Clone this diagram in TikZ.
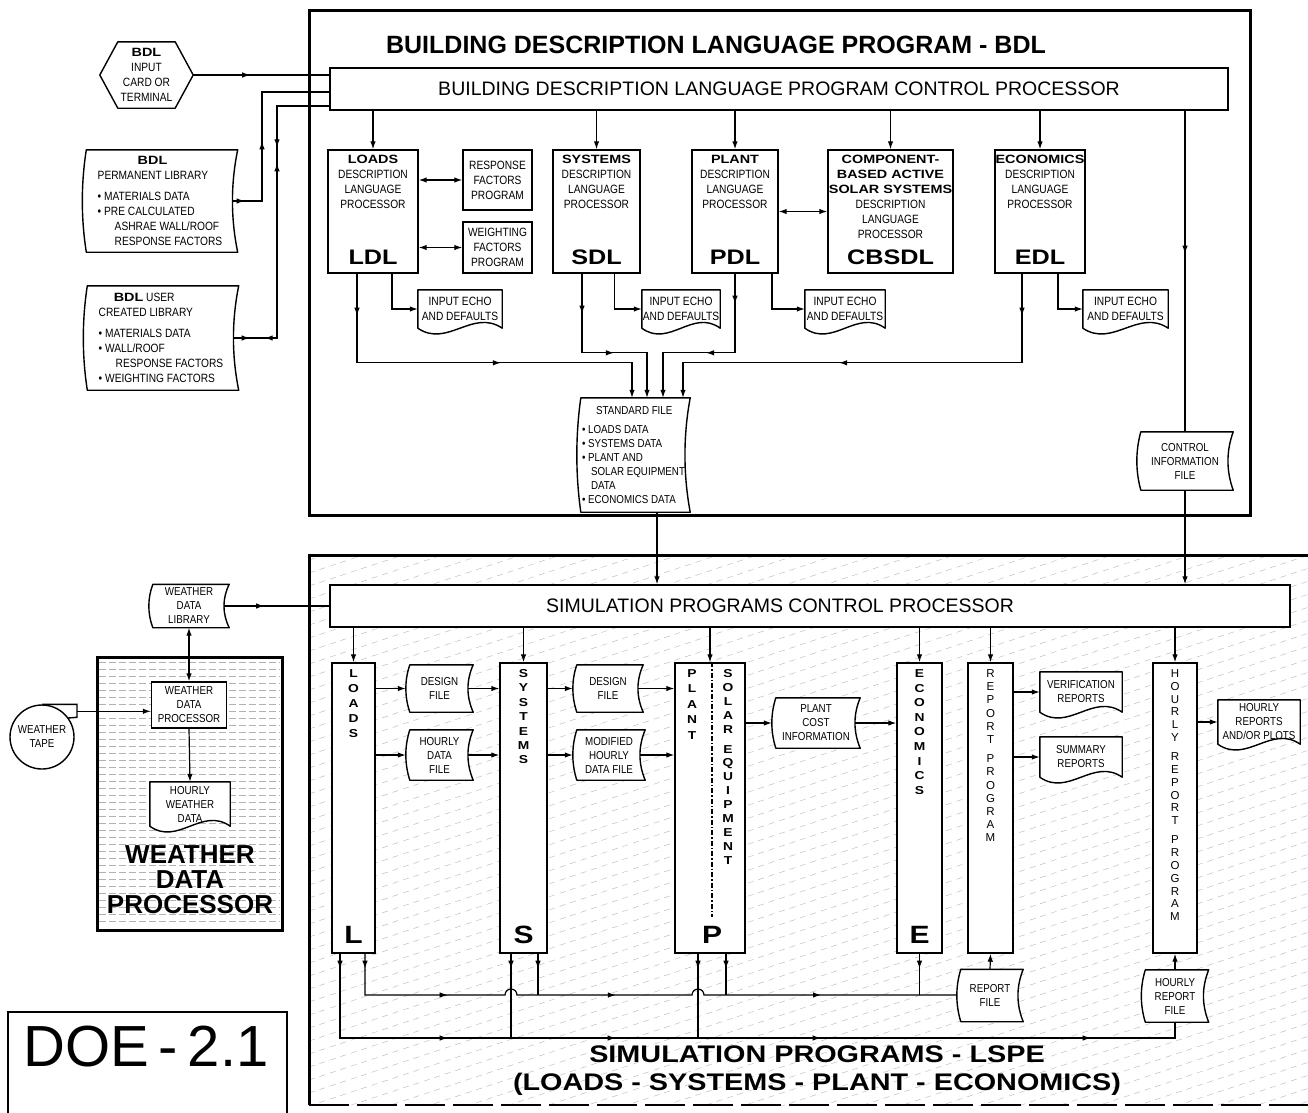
\documentclass[tikz,border=0pt]{standalone}
\usepackage{fontspec}
\setmainfont{Liberation Sans}
\newfontfamily\cndfont[FakeStretch=0.85]{Liberation Sans}
\newfontfamily\extfont[FakeStretch=1.2]{Liberation Sans}
\usetikzlibrary{arrows.meta,calc,decorations.markings,positioning}
\pgfdeclarelayer{bg}
\pgfdeclarelayer{mid}
\pgfsetlayers{bg,mid,main}
\newcommand\hb[1]{{\extfont\bfseries #1}}
\tikzset{
  >={Latex[length=8pt,width=5.5pt]},
  txt/.style={font=\cndfont\fontsize{12}{15}\selectfont,align=center,inner sep=0pt},
  txts/.style={font=\cndfont\fontsize{11.5}{14}\selectfont,align=center,inner sep=0pt},
  big/.style={font=\extfont\bfseries\fontsize{21}{21}\selectfont,inner sep=0pt},
  bigc/.style={font=\extfont\bfseries\fontsize{25}{25}\selectfont,inner sep=0pt},
  vl/.style={font=\extfont\bfseries\fontsize{11.5}{#1}\selectfont,align=center,anchor=north,inner sep=0pt},
  vr/.style={font=\fontsize{11.5}{#1}\selectfont,align=center,anchor=north,inner sep=0pt},
  box/.style={draw,line width=1.4pt,fill=white,inner sep=0pt},
  shp/.style={draw,line width=1.4pt,fill=white,line join=round},
  frm/.style={line width=3pt},
  con/.style={line width=1.2pt},
  arr/.style={con,->},
  darr/.style={con,<->},
  marr/.style={postaction={decorate,decoration={markings,mark=at position #1 with {\arrow{>}}}}},
  rarr/.style={postaction={decorate,decoration={markings,mark=at position #1 with {\arrowreversed{>}}}}},
}
% outlines of the file symbols
\newcommand\tapeout[1]{\draw[shp] ($(#1.north west)+(4,0)$) -- (#1.north east)
  .. controls ($(#1.north east)!.33!(#1.south east)+(-7,0)$) and ($(#1.north east)!.67!(#1.south east)+(-7,0)$) .. (#1.south east)
  -- ($(#1.south west)+(4,0)$)
  .. controls ($(#1.south west)!.33!(#1.north west)+(-1.3,0)$) and ($(#1.south west)!.67!(#1.north west)+(-1.3,0)$) .. ($(#1.north west)+(4,0)$) -- cycle;}
\newcommand\docout[1]{\draw[shp] (#1.south west) -- (#1.north west) -- (#1.north east) -- (#1.south east)
  .. controls ($(#1.south east)!.35!(#1.south west)+(0,-20)$) and ($(#1.south east)!.65!(#1.south west)+(0,20)$) .. (#1.south west) -- cycle;}
\begin{document}
\begin{tikzpicture}[x=1pt,y=-1pt]
\useasboundingbox (0,0) rectangle (1308,1112);

\begin{pgfonlayer}{bg}
\begin{scope}
\clip (309,555) rectangle (1308,1105);
\foreach \k in {0,...,68} \draw[gray!55,line width=0.45pt,dash pattern=on 6pt off 5pt] (309,560+13*\k) -- ++(1000,-330);
\end{scope}
\fill[white] (97,657) rectangle (282,930);
\foreach \y in {662,669,...,926} \draw[gray!60,line width=0.5pt,dash pattern=on 7pt off 3pt] (99,\y) -- (280,\y);
\end{pgfonlayer}

\draw[frm] (309,10) rectangle (1250,515);
\draw[frm] (1320,555) -- (309,555) -- (309,1105);
\draw[line width=2pt,dash pattern=on 40pt off 8pt] (309,1105) -- (1320,1105);
\draw[frm] (97,657) rectangle (282,930);
\draw[line width=2pt] (8,1012) rectangle (287,1125);

% BDL part
\node[font=\bfseries\fontsize{25}{25}\selectfont] (bdltitle) at (716,45) {BUILDING DESCRIPTION LANGUAGE PROGRAM - BDL};
\node[box,minimum width=898pt,minimum height=42pt,font=\fontsize{19.5}{20}\selectfont] (bdlcp) at (779,89) {BUILDING DESCRIPTION LANGUAGE PROGRAM CONTROL PROCESSOR};

\node[txt,minimum width=93pt,minimum height=66pt] (input) at (146.5,75) {\hb{BDL}\\INPUT\\CARD OR\\TERMINAL};
\node[txt,align=left,minimum width=155pt,minimum height=102pt] (permlib) at (160,201)
  {\hspace*{40pt}\hb{BDL}\\PERMANENT LIBRARY\\[6pt]\textbullet\ MATERIALS DATA\\\textbullet\ PRE CALCULATED\\\hspace*{17pt}ASHRAE WALL/ROOF\\\hspace*{17pt}RESPONSE FACTORS};
\node[txt,align=left,minimum width=155pt,minimum height=104pt] (userlib) at (161,338)
  {\hspace*{15pt}\hb{BDL} USER\\CREATED LIBRARY\\[6pt]\textbullet\ MATERIALS DATA\\\textbullet\ WALL/ROOF\\\hspace*{17pt}RESPONSE FACTORS\\\textbullet\ WEIGHTING FACTORS};

\draw[con,marr=57pt] (input.east) -- (input.east -| bdlcp.west);
\coordinate (pj) at (262,92);
\draw[con,marr=12pt,marr=89pt] ($(permlib.east)+(-5,0)$) -| (pj) -- (pj -| bdlcp.west);
\coordinate (uj) at (277,106);
\draw[con,marr=16pt,rarr=31pt,marr=218pt,rarr=234pt] ($(userlib.east)+(-5,0)$) -| (uj) -- (uj -| bdlcp.west);

\foreach \nm/\x/\w/\hd/\ab in {ldl/373/90/\hb{LOADS}/LDL, sdl/596.5/87/\hb{SYSTEMS}/SDL, pdl/735/86/\hb{PLANT}/PDL,
    cbsdl/890.5/125/{\hb{COMPONENT-}\\\hb{BASED ACTIVE}\\\hb{SOLAR SYSTEMS}}/CBSDL, edl/1040/90/\hb{ECONOMICS}/EDL} {
  \node[box,minimum width=\w pt,minimum height=123pt] (\nm) at (\x,211.5) {};
  \node[txt,anchor=north] (t\nm) at ($(\nm.north)+(0,6)$) {\hd\\DESCRIPTION\\LANGUAGE\\PROCESSOR};
  \node[big] (b\nm) at ($(\nm.south)+(0,-16)$) {\ab};
  \draw[arr] (bdlcp.south -| \nm.north) -- (\nm.north);
}
\node[box,txt,minimum width=69pt,minimum height=60pt] (resp) at (497.5,180) {RESPONSE\\FACTORS\\PROGRAM};
\node[box,txt,minimum width=69pt,minimum height=51pt] (weight) at (497.5,247.5) {WEIGHTING\\FACTORS\\PROGRAM};
\draw[darr] (ldl.east |- resp.west) -- (resp.west);
\draw[darr] (ldl.east |- weight.west) -- (weight.west);
\draw[darr] (pdl.east) -- (cbsdl.west);

\node[txt,minimum width=84pt,minimum height=38pt] (echo1) at (460,309) {INPUT ECHO\\AND DEFAULTS};
\node[txt,minimum width=78pt,minimum height=38pt] (echo2) at (681,309) {INPUT ECHO\\AND DEFAULTS};
\node[txt,minimum width=80pt,minimum height=38pt] (echo3) at (845,309) {INPUT ECHO\\AND DEFAULTS};
\node[txt,minimum width=85pt,minimum height=38pt] (echo4) at (1125.5,309) {INPUT ECHO\\AND DEFAULTS};
\draw[arr] ($(ldl.south)+(19,0)$) |- (echo1.west);
\draw[arr] ($(sdl.south)+(18,0)$) |- (echo2.west);
\draw[arr] ($(pdl.south)+(37,0)$) |- (echo3.west);
\draw[arr] ($(edl.south)+(18,0)$) |- (echo4.west);

\node[txt,align=left,font=\cndfont\fontsize{11.5}{14}\selectfont,minimum width=113pt,minimum height=114pt] (stdfile) at (633.5,455)
  {\hspace*{14pt}STANDARD FILE\\[5pt]\textbullet\ LOADS DATA\\\textbullet\ SYSTEMS DATA\\\textbullet\ PLANT AND\\\hspace*{9pt}SOLAR EQUIPMENT\\\hspace*{9pt}DATA\\\textbullet\ ECONOMICS DATA};
\coordinate (sf1) at ($(stdfile.north)+(-1.5,0)$);
\coordinate (sf2) at ($(stdfile.north)+(13.5,0)$);
\coordinate (sf3) at ($(stdfile.north)+(29.5,0)$);
\coordinate (sf4) at ($(stdfile.north)+(49.5,0)$);
\draw[arr,marr=42pt,marr=233pt] ($(ldl.south)+(-16,0)$) |- ($(sf1)+(0,-35)$) -- (sf1);
\draw[arr,marr=40pt,marr=111pt] ($(sdl.south)+(-14.5,0)$) |- ($(sf2)+(0,-45)$) -- (sf2);
\draw[arr,marr=30pt,marr=108pt] (pdl.south) |- ($(sf3)+(0,-45)$) -- (sf3);
\draw[arr,marr=42pt,marr=272pt] ($(edl.south)+(-18,0)$) |- ($(sf4)+(0,-35)$) -- (sf4);

\node[txts,minimum width=96pt,minimum height=58pt] (cinfo) at (1185,461) {CONTROL\\INFORMATION\\FILE};
\draw[con,marr=143pt] (bdlcp.south -| cinfo.north) -- (cinfo.north);

% LSPE part
\node[box,minimum width=960pt,minimum height=42pt] (spc) at (810,606) {};
\node[font=\fontsize{19.5}{20}\selectfont] (spctxt) at (780,606) {SIMULATION PROGRAMS CONTROL PROCESSOR};
\coordinate (sfo) at ($(stdfile.south)+(23.5,0)$);
\draw[arr] (sfo) -- (sfo |- spc.north);
\draw[arr] (cinfo.south) -- (cinfo.south |- spc.north);

\foreach \nm/\x/\w in {colL/353.5/43, colS/523.5/47, colP/710/70, colE/919.5/45, colR/990.5/45, colH/1175/44} {
  \node[box,minimum width=\w pt,minimum height=290pt] (\nm) at (\x,808) {};
  \draw[arr] (spc.south -| \nm.north) -- (\nm.north);
}
\draw[line width=1.2pt,dash pattern=on 5pt off 2pt on 1.5pt off 2pt] ($(colP.north)+(2,0)$) -- ($(colP.north)+(2,255)$);
\node[vl=15] (lv) at ($(colL.north)+(0,7)$) {L\\O\\A\\D\\S};
\node[vl=14.4] (sv) at ($(colS.north)+(0,7)$) {S\\Y\\S\\T\\E\\M\\S};
\node[vl=15.4] (pv) at ($(colP.north)+(-18,7)$) {P\\L\\A\\N\\T};
\node[vl=13.9] (qv) at ($(colP.north)+(18,7)$) {S\\O\\L\\A\\R\\[6pt]E\\Q\\U\\I\\P\\M\\E\\N\\T};
\node[vl=14.6] (ev) at ($(colE.north)+(0,7)$) {E\\C\\O\\N\\O\\M\\I\\C\\S};
\node[vr=13.2] (rv) at ($(colR.north)+(0,7)$) {R\\E\\P\\O\\R\\T\\[6pt]P\\R\\O\\G\\R\\A\\M};
\node[vr=12.85] (hv) at ($(colH.north)+(0,7)$) {H\\O\\U\\R\\L\\Y\\[6pt]R\\E\\P\\O\\R\\T\\[6pt]P\\R\\O\\G\\R\\A\\M};
\node[bigc] (lbig) at ($(colL.south)+(0,-19)$) {L};
\node[bigc] (sbig) at ($(colS.south)+(0,-19)$) {S};
\node[bigc] (pbig) at ($(colP.south)+(2,-19)$) {P};
\node[bigc] (ebig) at ($(colE.south)+(0,-19)$) {E};

\node[txts,minimum width=67pt,minimum height=47pt] (des1) at (439.5,688.5) {DESIGN\\FILE};
\node[txts,minimum width=67pt,minimum height=50pt] (hrd1) at (439.5,755) {HOURLY\\DATA\\FILE};
\node[txts,minimum width=70pt,minimum height=47pt] (des2) at (608,688.5) {DESIGN\\FILE};
\node[txts,minimum width=72pt,minimum height=50pt] (mhd) at (609,755) {MODIFIED\\HOURLY\\DATA FILE};
\node[txts,minimum width=88pt,minimum height=50pt] (pci) at (816,723) {PLANT\\COST\\INFORMATION};
\node[txts,minimum width=82pt,minimum height=40pt] (vrep) at (1081,692) {VERIFICATION\\REPORTS};
\node[txts,minimum width=82pt,minimum height=40pt] (srep) at (1081,757) {SUMMARY\\REPORTS};
\node[txts,minimum width=82pt,minimum height=44pt] (hrep) at (1259,722) {HOURLY\\REPORTS\\AND/OR PLOTS};
\node[txts,minimum width=66pt,minimum height=52pt] (rfile) at (990,995.5) {REPORT\\FILE};
\node[txts,minimum width=67pt,minimum height=52pt] (hrfile) at (1175,996) {HOURLY\\REPORT\\FILE};

\draw[arr] (colL.east |- des1.west) -- (des1.west);
\draw[arr] ($(des1.east)+(-5,0)$) -- (colS.west |- des1.east);
\draw[arr] (colL.east |- hrd1.west) -- (hrd1.west);
\draw[arr] ($(hrd1.east)+(-5,0)$) -- (colS.west |- hrd1.east);
\draw[arr] (colS.east |- des2.west) -- (des2.west);
\draw[arr] ($(des2.east)+(-5,0)$) -- (colP.west |- des2.east);
\draw[arr] (colS.east |- mhd.west) -- (mhd.west);
\draw[arr] ($(mhd.east)+(-5,0)$) -- (colP.west |- mhd.east);
\draw[arr] (colP.east |- pci.west) -- (pci.west);
\draw[arr] ($(pci.east)+(-5,0)$) -- (colE.west |- pci.east);
\draw[arr] (colR.east |- vrep.west) -- (vrep.west);
\draw[arr] (colR.east |- srep.west) -- (srep.west);
\draw[arr] (colH.east |- hrep.west) -- (hrep.west);

\coordinate (ub) at (0,995);
\coordinate (lb) at (0,1038);
\coordinate (sL1) at ($(colL.south)+(-13.5,0)$);
\coordinate (sL2) at ($(colL.south)+(11.5,0)$);
\coordinate (sS1) at ($(colS.south)+(-12.5,0)$);
\coordinate (sS2) at ($(colS.south)+(14.5,0)$);
\coordinate (sP1) at ($(colP.south)+(-12,0)$);
\coordinate (sP2) at ($(colP.south)+(16,0)$);
\draw[con,marr=15pt,marr=124pt,marr=299pt,marr=511pt] (sL2) -- (sL2 |- ub) -- ($(sS1 |- ub)+(-6,0)$) arc(180:360:6)
  -- ($(sP1 |- ub)+(-6,0)$) arc(180:360:6) -- (rfile.west |- ub);
\draw[con,marr=15pt,marr=192pt,marr=360pt,marr=565pt,marr=835pt] (sL1) -- (sL1 |- lb) -- (hrfile.south |- lb) -- (hrfile.south);
\draw[con,marr=15pt] (sS2) -- (sS2 |- ub);
\draw[con,marr=15pt] (sS1) -- (sS1 |- lb);
\draw[con,marr=15pt] (sP2) -- (sP2 |- ub);
\draw[con,marr=15pt] (sP1) -- (sP1 |- lb);
\draw[con,marr=15pt] (colE.south) -- (colE.south |- ub);
\draw[arr] (rfile.north) -- (colR.south);
\draw[arr] (hrfile.north) -- (colH.south);

\node[font=\extfont\bfseries\fontsize{24}{28}\selectfont,align=center] (lspetitle) at (817,1071) {SIMULATION PROGRAMS - LSPE\\(LOADS - SYSTEMS - PLANT - ECONOMICS)};

% weather data processor
\node[txts,minimum width=80pt,minimum height=43pt] (wlib) at (189,606) {WEATHER\\DATA\\LIBRARY};
\draw[con,marr=40pt] ($(wlib.east)+(-5,0)$) -- (spc.west);
\node[box,txts,minimum width=75pt,minimum height=46pt] (wdp) at (189,705) {WEATHER\\DATA\\PROCESSOR};
\draw[darr] (wlib.south) -- (wdp.north);
\node[txts,minimum width=80pt,minimum height=44pt] (hwd) at (190,804) {HOURLY\\WEATHER\\DATA};
\draw[arr] (wdp.south) -- (hwd.north);
\node[circle,draw,line width=1.4pt,fill=white,minimum size=64pt,txts] (wtape) at (42,737) {WEATHER\\TAPE};
\draw[line width=1.4pt] (wtape.north) -- ++(35,0) -- ++(0,13) -- ($(wtape.center)+(26,-19)$);
\coordinate (tabend) at ($(wtape.north)+(35,7)$);
\draw[arr] (tabend) -- (tabend -| wdp.west);
\node[font=\bfseries\fontsize{26}{25}\selectfont,align=center,inner sep=0pt] (wtitle) at (190,880) {WEATHER\\DATA\\PROCESSOR};
\node[font=\fontsize{58}{58}\selectfont,inner sep=0pt] (doe) at (146,1047) {DOE\,-\,2.1};

\begin{pgfonlayer}{mid}
\draw[shp] (input.west) -- ($(input.north west)+(18,0)$) -- ($(input.north east)+(-18,0)$) -- (input.east)
  -- ($(input.south east)+(-18,0)$) -- ($(input.south west)+(18,0)$) -- cycle;
\foreach \nm in {permlib,userlib,stdfile,cinfo,des1,hrd1,des2,mhd,pci,rfile,hrfile,wlib} {\tapeout{\nm}}
\foreach \nm in {echo1,echo2,echo3,echo4,vrep,srep,hrep,hwd} {\docout{\nm}}
\end{pgfonlayer}
\end{tikzpicture}
\end{document}
